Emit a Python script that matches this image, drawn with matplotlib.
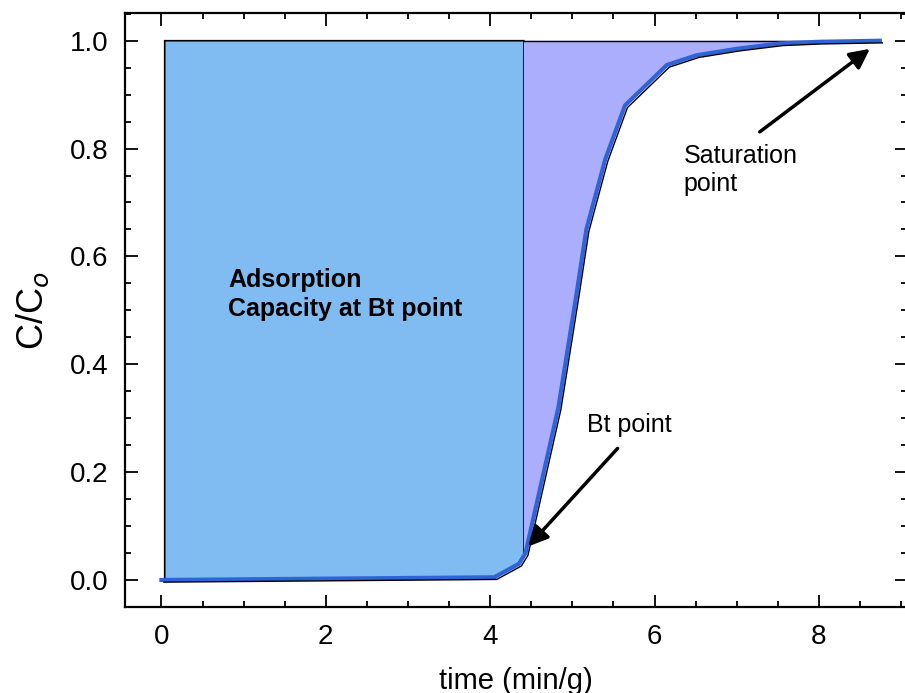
import numpy as np
import matplotlib
matplotlib.use('Agg')
import matplotlib.pyplot as plt
from matplotlib.ticker import MultipleLocator

plt.rcParams['font.family'] = ['Liberation Sans', 'DejaVu Sans']

# breakthrough curve
time = [0.0, 4.05, 4.35, 4.43, 4.83, 5.05, 5.17, 5.40, 5.64, 6.15, 6.51, 7.00, 7.53, 8.00, 8.74]
c_ratio = [0.0, 0.005, 0.03, 0.05, 0.32, 0.53, 0.65, 0.78, 0.88, 0.955, 0.973, 0.985, 0.995, 0.998, 1.0]

bt_time = 4.41      # breakthrough point
rect_start = 0.04   # left edge of the shaded capacity area
sat_time = 8.74

time = np.array(time)
c_ratio = np.array(c_ratio)

fig = plt.figure(figsize=(9.05, 6.93), dpi=100)
ax = fig.add_axes([0.1384, 0.1237, 0.8637, 0.857])

# capacity up to Bt point
xa = np.concatenate([[rect_start], time[(time > rect_start) & (time < bt_time)], [bt_time]])
ya = np.interp(xa, time, c_ratio)
ax.fill(np.concatenate([xa, [bt_time, rect_start]]),
        np.concatenate([ya, [1.0, 1.0]]),
        facecolor='#80bbf1', edgecolor='black', lw=1.2, zorder=2)

# remaining capacity to saturation
xb = np.concatenate([[bt_time], time[time > bt_time]])
yb = np.interp(xb, time, c_ratio)
ax.fill(np.concatenate([xb, [sat_time, bt_time]]),
        np.concatenate([yb, [1.0, 1.0]]),
        facecolor='#abaefd', edgecolor='none', zorder=2)
ax.plot([bt_time, sat_time], [1.0, 1.0], color='black', lw=1.0, zorder=3)

ax.plot(time, c_ratio, color='#2e64d6', lw=3.0, zorder=4)
ax.plot(time + 0.03, c_ratio - 0.004, color='black', lw=1.0, zorder=5)

ax.text(0.81, 0.53, 'Adsorption\nCapacity at Bt point', fontsize=18,
        fontweight='bold', va='center', ha='left', linespacing=1.25, zorder=6)

arrow = dict(arrowstyle='-|>', color='black', lw=2.5, mutation_scale=30,
             shrinkA=0, shrinkB=0)
ax.annotate('', xy=(8.62, 0.985), xytext=(7.28, 0.831), arrowprops=arrow, zorder=6)
ax.text(6.35, 0.76, 'Saturation\npoint', fontsize=18, va='center', ha='left',
        linespacing=1.2)
ax.annotate('', xy=(4.46, 0.062), xytext=(5.55, 0.244), arrowprops=arrow, zorder=6)
ax.text(5.18, 0.287, 'Bt point', fontsize=18, va='center', ha='left')

ax.set_xlim(-0.44, 9.07)
ax.set_ylim(-0.0506, 1.0507)
ax.xaxis.set_major_locator(MultipleLocator(2))
ax.xaxis.set_minor_locator(MultipleLocator(0.5))
ax.yaxis.set_major_locator(MultipleLocator(0.2))
ax.yaxis.set_minor_locator(MultipleLocator(0.05))
ax.xaxis.set_major_formatter(plt.FormatStrFormatter('%d'))
ax.yaxis.set_major_formatter(plt.FormatStrFormatter('%.1f'))

ax.tick_params(which='both', direction='in', top=True, right=True, width=1.3)
ax.tick_params(which='major', length=9, labelsize=20, pad=12)
ax.tick_params(which='minor', length=4.5)
for s in ax.spines.values():
    s.set_linewidth(1.6)

ax.set_xlabel('time (min/g)', fontsize=21, labelpad=12)
ax.set_ylabel('C/C$_o$', fontsize=26, labelpad=14)

fig.savefig('out.png', dpi=100)
